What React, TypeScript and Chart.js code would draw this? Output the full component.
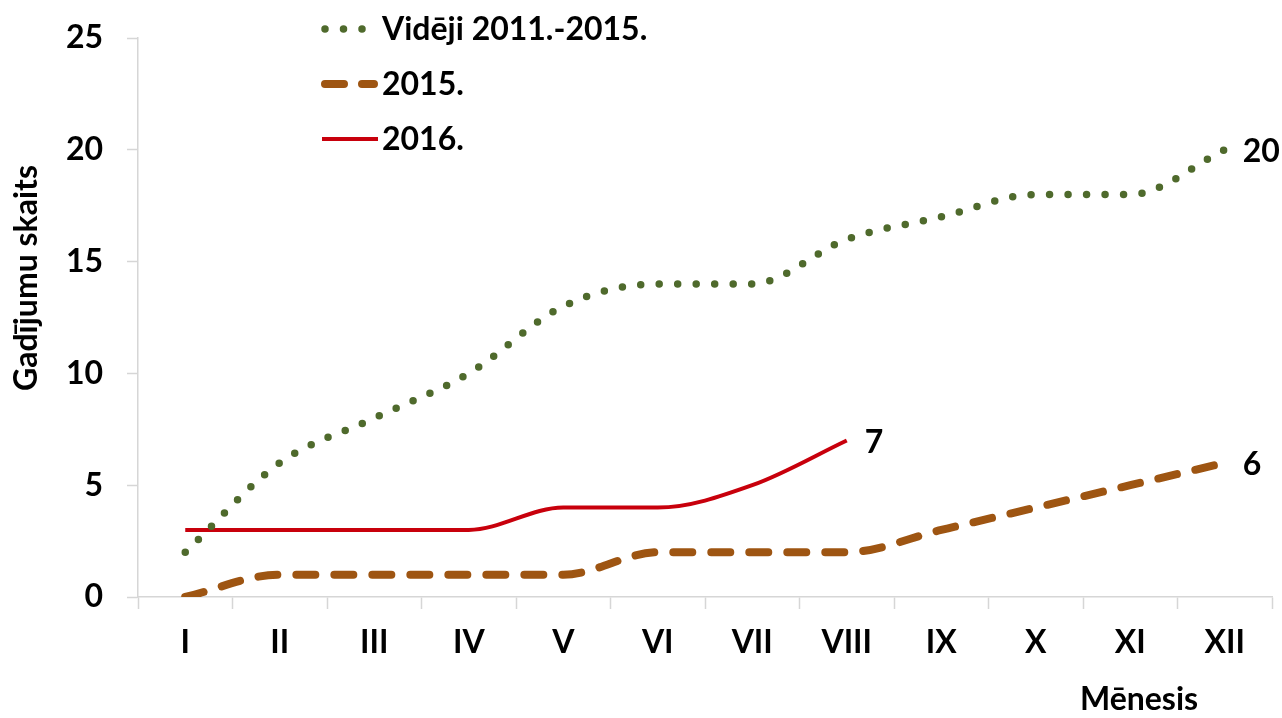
import React, { useEffect, useRef } from "react";
import { Chart, registerables } from "chart.js";

Chart.register(...registerables);

const months = ["I", "II", "III", "IV", "V", "VI", "VII", "VIII", "IX", "X", "XI", "XII"];
const avg20112015 = [2, 6, 8, 10, 13, 14, 14, 16, 17, 18, 18, 20];
const year2015 = [0, 1, 1, 1, 1, 2, 2, 2, 3, 4, 5, 6];
const year2016 = [3, 3, 3, 3, 4, 4, 5, 7];
const seriesNames = ["Vidēji 2011.-2015.", "2015.", "2016."];
const yMin = 0;
const yMax = 25;
const yStep = 5;
const yTitle = "Gadījumu skaits";
const xTitle = "Mēnesis";

const GREEN = "#4f6a2c";
const BROWN = "#9e5512";
const RED = "#c8000c";
const AXIS = "#d6d6d6";
const FONT_FAMILY = "Lato";
const FONT = `bold 32px ${FONT_FAMILY}`;

const overlayPlugin = {
  id: "overlay",
  afterDatasetsDraw(chart: any) {
    const ctx = chart.ctx;
    ctx.save();
    ctx.font = FONT;
    ctx.fillStyle = "#000";
    ctx.textAlign = "left";
    ctx.textBaseline = "middle";
    chart.data.datasets.forEach((ds: any, di: number) => {
      const meta = chart.getDatasetMeta(di);
      let last = -1;
      ds.data.forEach((v: any, i: number) => {
        if (v !== null && v !== undefined) last = i;
      });
      if (last < 0) return;
      const pt = meta.data[last];
      ctx.fillText(String(ds.data[last]), pt.x + 18, pt.y + 2);
    });
    ctx.restore();
  },
  afterDraw(chart: any) {
    const ctx = chart.ctx;
    ctx.save();
    ctx.font = FONT;
    ctx.fillStyle = "#000";
    ctx.textAlign = "center";
    ctx.textBaseline = "middle";
    ctx.save();
    ctx.translate(27, 278);
    ctx.rotate(-Math.PI / 2);
    ctx.fillText(yTitle, 0, 0);
    ctx.restore();
    ctx.fillText(xTitle, 1139, 700);

    const textX = 382;
    const rows = [29, 84, 139];
    ctx.lineCap = "round";
    ctx.strokeStyle = GREEN;
    ctx.lineWidth = 7.5;
    ctx.setLineDash([0, 18.5]);
    ctx.beginPath();
    ctx.moveTo(325, rows[0]);
    ctx.lineTo(363, rows[0]);
    ctx.stroke();
    ctx.strokeStyle = BROWN;
    ctx.lineWidth = 8;
    ctx.setLineDash([19, 18]);
    ctx.beginPath();
    ctx.moveTo(325, rows[1]);
    ctx.lineTo(374, rows[1]);
    ctx.stroke();
    ctx.setLineDash([]);
    ctx.lineCap = "butt";
    ctx.strokeStyle = RED;
    ctx.lineWidth = 4;
    ctx.beginPath();
    ctx.moveTo(322, rows[2]);
    ctx.lineTo(378, rows[2]);
    ctx.stroke();

    ctx.fillStyle = "#000";
    ctx.textAlign = "left";
    ctx.textBaseline = "middle";
    seriesNames.forEach((n, i) => ctx.fillText(n, textX, rows[i] + 1));
    ctx.restore();
  },
};

export default function App() {
  const ref = useRef<HTMLCanvasElement>(null);
  useEffect(() => {
    if (!ref.current) return;
    const chart = new Chart(ref.current, {
      type: "line",
      data: {
        labels: months,
        datasets: [
          {
            label: seriesNames[0],
            data: avg20112015,
            borderColor: GREEN,
            borderWidth: 7.5,
            borderDash: [0, 18.5],
            borderCapStyle: "round",
            pointRadius: 0,
            cubicInterpolationMode: "monotone",
            fill: false,
          },
          {
            label: seriesNames[1],
            data: year2015,
            borderColor: BROWN,
            borderWidth: 8,
            borderDash: [19, 19],
            borderCapStyle: "round",
            pointRadius: 0,
            cubicInterpolationMode: "monotone",
            fill: false,
          },
          {
            label: seriesNames[2],
            data: year2016,
            borderColor: RED,
            borderWidth: 4,
            pointRadius: 0,
            cubicInterpolationMode: "monotone",
            fill: false,
          },
        ],
      },
      options: {
        responsive: false,
        animation: false,
        layout: { autoPadding: false, padding: { left: 0, top: 38, right: 10, bottom: 0 } },
        plugins: {
          legend: { display: false },
          tooltip: { enabled: false },
          title: { display: false },
        },
        scales: {
          x: {
            offset: true,
            grid: {
              offset: true,
              drawOnChartArea: false,
              drawTicks: true,
              tickLength: 12,
              tickWidth: 1.5,
              tickColor: AXIS,
            },
            border: { color: AXIS, width: 1.5 },
            ticks: {
              font: { family: FONT_FAMILY, size: 32, weight: "bold" },
              color: "#000",
              padding: 14,
              maxRotation: 0,
              autoSkip: false,
            },
            afterFit(scale: any) {
              scale.height = 121;
              scale.paddingLeft = 0;
              scale.paddingRight = 0;
            },
          },
          y: {
            min: yMin,
            max: yMax,
            ticks: {
              stepSize: yStep,
              font: { family: FONT_FAMILY, size: 32, weight: "bold" },
              color: "#000",
              padding: 24,
            },
            grid: {
              drawOnChartArea: false,
              drawTicks: true,
              tickLength: 11,
              tickWidth: 1.5,
              tickColor: AXIS,
            },
            border: { color: AXIS, width: 1.5 },
            afterFit(scale: any) {
              scale.width = 138;
              scale.paddingTop = 0;
              scale.paddingBottom = 0;
            },
          },
        },
      },
      plugins: [overlayPlugin],
    } as any);
    return () => chart.destroy();
  }, []);
  return (
    <div style={{ position: "fixed", left: 0, top: 0, width: 1282, height: 718, background: "#fff" }}>
      <canvas ref={ref} width={1282} height={718} style={{ display: "block" }} />
    </div>
  );
}
